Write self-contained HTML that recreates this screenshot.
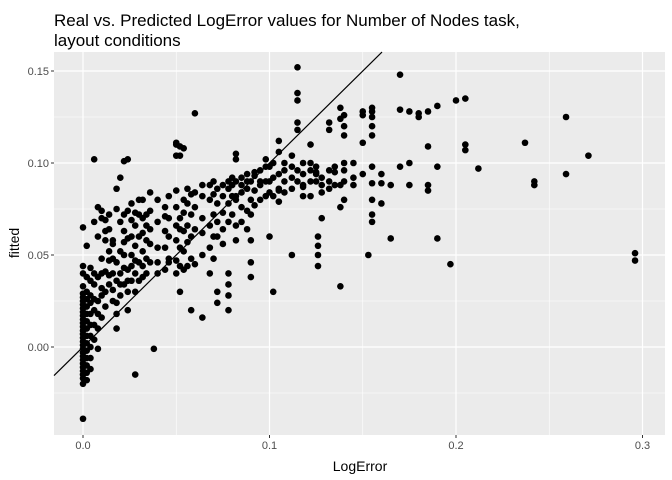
<!DOCTYPE html>
<html><head><meta charset="utf-8"><style>
body{margin:0;background:#fff;font-family:"Liberation Sans",sans-serif}
svg{display:block}
</style></head><body>
<svg id="chart" width="672" height="480">
<text x="54" y="26" font-size="17" fill="#000">Real vs. Predicted LogError values for Number of Nodes task,</text>
<text x="54" y="46" font-size="17" fill="#000">layout conditions</text>
<rect x="54" y="52" width="611" height="383" fill="#EBEBEB"/>
<g id="grid"></g>
<g id="points"></g>
<g id="axes"></g>
<text x="360" y="471" font-size="14" text-anchor="middle">LogError</text>
<text transform="translate(19,243) rotate(-90)" font-size="14" text-anchor="middle">fitted</text>
</svg>
<script>
const xTicks=[0,0.1,0.2,0.3];
const xTickLabels=["0.0","0.1","0.2","0.3"];
const yTicks=[0,0.05,0.10,0.15];
const yTickLabels=["0.00","0.05","0.10","0.15"];
const xMinor=[0.05,0.15,0.25];
const yMinor=[-0.025,0.025,0.075,0.125];
const groupX=[0,0.002,0.004,0.006,0.008,0.010,0.012,0.014,0.016,0.018,0.020,0.022,0.024,0.026,0.028,0.030,0.032,0.034,0.036,0.038,0.040,0.044,0.046,0.050,0.052,0.054,0.056,0.058,0.060,0.064,0.068,0.070,0.072,0.075,0.078,0.080,0.082,0.085,0.088,0.090,0.092,0.095,0.098,0.100,0.102,0.105,0.108,0.112,0.115,0.118,0.122,0.125,0.128,0.132,0.126,0.135,0.138,0.140,0.145,0.150,0.153,0.155,0.160,0.165,0.170,0.175,0.180,0.185,0.190,0.197,0.200,0.205,0.212,0.237,0.242,0.259,0.271,0.296];
const groupFitted=[
[-0.039,-0.020,-0.017,-0.015,-0.013,-0.011,-0.009,-0.007,-0.005,-0.003,-0.001,0.001,0.003,0.005,0.007,0.009,0.011,0.013,0.015,0.017,0.019,0.021,0.023,0.025,0.027,0.029,0.033,0.040,0.044,0.065],
[-0.018,-0.014,-0.010,-0.006,-0.002,0.002,0.006,0.010,0.014,0.018,0.022,0.026,0.030,0.038,0.055],
[-0.012,-0.006,0.000,0.006,0.012,0.018,0.024,0.028,0.036,0.043],
[0.004,0.012,0.020,0.026,0.034,0.040,0.102,0.068],
[-0.001,0.010,0.018,0.025,0.038,0.060,0.076],
[0.016,0.028,0.032,0.040,0.048,0.070,0.074],
[0.022,0.030,0.041,0.058,0.063,0.069],
[0.034,0.039,0.047,0.052,0.064,0.072],
[0.025,0.031,0.040,0.048,0.056,0.058],
[0.010,0.018,0.024,0.036,0.046,0.075,0.086],
[0.028,0.034,0.040,0.052,0.068,0.092],
[0.034,0.043,0.050,0.057,0.063,0.072,0.101],
[0.020,0.030,0.036,0.042,0.059,0.074,0.102],
[0.036,0.044,0.050,0.060,0.069,0.078],
[-0.015,0.030,0.040,0.047,0.055,0.066,0.073],
[0.036,0.046,0.060,0.072,0.080],
[0.038,0.044,0.052,0.062,0.070,0.080],
[0.040,0.048,0.058,0.066,0.072],
[0.046,0.056,0.064,0.074,0.084],
[-0.001],
[0.040,0.046,0.054,0.068,0.080],
[0.042,0.054,0.063,0.071,0.076],
[0.046,0.048,0.060,0.070,0.082],
[0.040,0.047,0.058,0.066,0.076,0.085,0.104,0.110,0.111],
[0.030,0.044,0.054,0.064,0.070,0.109,0.104],
[0.042,0.052,0.063,0.073,0.080,0.108],
[0.044,0.057,0.066,0.078,0.086],
[0.020,0.048,0.060,0.072,0.083],
[0.127,0.045,0.064,0.076,0.084],
[0.016,0.050,0.062,0.070,0.082,0.088],
[0.040,0.054,0.066,0.080,0.088],
[0.048,0.060,0.072,0.083,0.090],
[0.060,0.068,0.078,0.086,0.030,0.024],
[0.056,0.064,0.073,0.082,0.088],
[0.020,0.028,0.034,0.040,0.068,0.078,0.086,0.090],
[0.072,0.082,0.088,0.092],
[0.058,0.066,0.080,0.090,0.102,0.105,0.082],
[0.068,0.076,0.084,0.092,0.088],
[0.064,0.074,0.086,0.094,0.090],
[0.038,0.046,0.058,0.072,0.080,0.090],
[0.077,0.085,0.093,0.095],
[0.080,0.088,0.096,0.090],
[0.082,0.090,0.098,0.102],
[0.060,0.084,0.090,0.098],
[0.030,0.082,0.092,0.100],
[0.086,0.094,0.106,0.112,0.079,0.085],
[0.084,0.090,0.096,0.100],
[0.050,0.086,0.092,0.098,0.104],
[0.152,0.118,0.122,0.138,0.134,0.090,0.096],
[0.082,0.088,0.094,0.100,0.087],
[0.082,0.090,0.096,0.100,0.110],
[0.090,0.094,0.095,0.098],
[0.070,0.084,0.088,0.092],
[0.086,0.090,0.096,0.118,0.122],
[0.044,0.055,0.050,0.060],
[0.095,0.098,0.088],
[0.033,0.076,0.088,0.124,0.130],
[0.080,0.090,0.096,0.100,0.115,0.120,0.126],
[0.088,0.092,0.100],
[0.126,0.128,0.094,0.111],
[0.050],
[0.120,0.125,0.128,0.130,0.115,0.098,0.089,0.080,0.072,0.068],
[0.089,0.094,0.078],
[0.088,0.059],
[0.148,0.129,0.098],
[0.128,0.100,0.088],
[0.127,0.125],
[0.128,0.088,0.085,0.109],
[0.131,0.098,0.059],
[0.045],
[0.134],
[0.135,0.107,0.110],
[0.097],
[0.111],
[0.090,0.088],
[0.125,0.094],
[0.104],
[0.051,0.047]
];
const NS='http://www.w3.org/2000/svg';
const X0=83,XPER=1865,Y0=347,YPER=1840;
const L=54,R=665,T=52,B=435;
function sx(v){return X0+v*XPER;}
function sy(v){return Y0-v*YPER;}
function mk(tag,attrs,parent){const e=document.createElementNS(NS,tag);for(const k in attrs)e.setAttribute(k,attrs[k]);parent.appendChild(e);return e;}
const grid=document.getElementById('grid');
const axes=document.getElementById('axes');
xMinor.forEach(v=>{const l=mk('line',{x1:sx(v),x2:sx(v),y1:T,y2:B,stroke:'#fff','stroke-width':0.6},grid);

});
yMinor.forEach(v=>{const l=mk('line',{x1:L,x2:R,y1:sy(v),y2:sy(v),stroke:'#fff','stroke-width':0.6},grid);

});
xTicks.forEach((v,i)=>{const l=mk('line',{x1:sx(v),x2:sx(v),y1:T,y2:B,stroke:'#fff','stroke-width':1.2},grid);


const tk=mk('line',{x1:sx(v),x2:sx(v),y1:B,y2:B+3,stroke:'#333','stroke-width':1},axes);


const t=mk('text',{x:sx(v),y:B+14,'font-size':11,fill:'#4D4D4D','text-anchor':'middle'},axes);t.textContent=xTickLabels[i];

});
yTicks.forEach((v,i)=>{const l=mk('line',{x1:L,x2:R,y1:sy(v),y2:sy(v),stroke:'#fff','stroke-width':1.2},grid);


const tk=mk('line',{x1:L-3,x2:L,y1:sy(v),y2:sy(v),stroke:'#333','stroke-width':1},axes);


const t=mk('text',{x:L-5,y:sy(v)+4,'font-size':11,fill:'#4D4D4D','text-anchor':'end'},axes);t.textContent=yTickLabels[i];

});
const pts=document.getElementById('points');
groupX.forEach((x,i)=>{groupFitted[i].forEach(y=>{const c=mk('circle',{cx:sx(x),cy:sy(y),r:3.3,fill:'#000'},pts);

});});
// identity line y = x clipped to panel
const xa=(L-X0)/XPER, xb=(T-Y0)/-YPER;
const ln=mk('line',{x1:sx(xa),y1:sy(xa),x2:sx(xb),y2:sy(xb),stroke:'#000','stroke-width':1.2},pts);


</script>
</body></html>
